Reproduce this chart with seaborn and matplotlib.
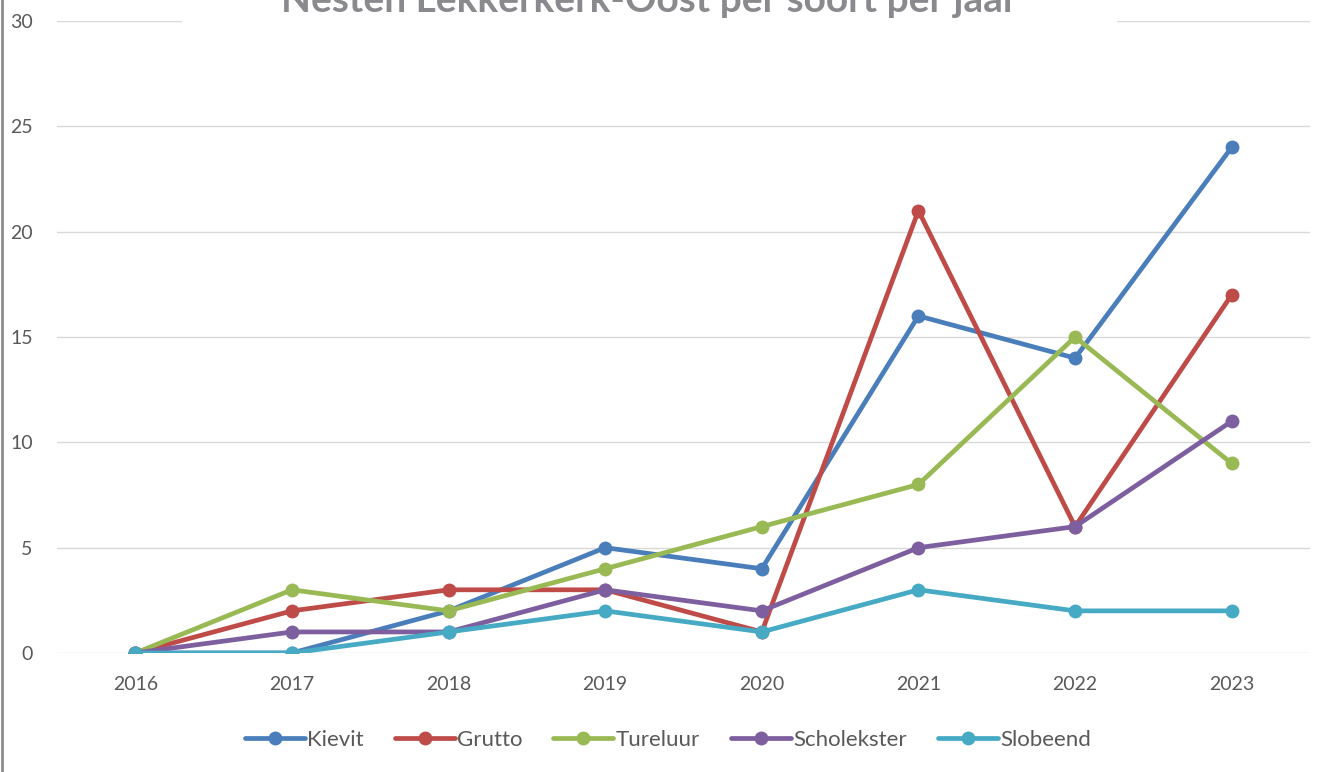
import matplotlib
matplotlib.use('Agg')
import matplotlib.pyplot as plt
import seaborn as sns
import pandas as pd
from matplotlib.patches import Rectangle
from matplotlib.lines import Line2D

jaren = [2016, 2017, 2018, 2019, 2020, 2021, 2022, 2023]
kievit = [0, 0, 2, 5, 4, 16, 14, 24]
grutto = [0, 2, 3, 3, 1, 21, 6, 17]
tureluur = [0, 3, 2, 4, 6, 8, 15, 9]
scholekster = [0, 1, 1, 3, 2, 5, 6, 11]
slobeend = [0, 0, 1, 2, 1, 3, 2, 2]

soorten = ['Kievit', 'Grutto', 'Tureluur', 'Scholekster', 'Slobeend']
kleuren = ['#4a7ebb', '#be4b48', '#98b954', '#7d5fa0', '#46aac5']

rows = []
for naam, waarden in zip(soorten, [kievit, grutto, tureluur, scholekster, slobeend]):
    for j, w in zip(jaren, waarden):
        rows.append({'jaar': j, 'nesten': w, 'soort': naam})
df = pd.DataFrame(rows)

sns.set_style('white')
plt.rcParams['font.family'] = ['Lato', 'DejaVu Sans']

fig = plt.figure(figsize=(13.2, 7.72), dpi=100)
ax = fig.add_axes([57 / 1320, 119 / 772, 1253 / 1320, 632 / 772])

sns.lineplot(data=df, x='jaar', y='nesten', hue='soort', palette=kleuren,
             marker='o', markersize=10, markeredgewidth=0, linewidth=3.4,
             ax=ax, zorder=3)

ax.set_xlim(2015.5, 2023.5)
ax.set_ylim(0, 30)
ax.set_xticks(jaren)
ax.set_yticks(range(0, 31, 5))
ax.grid(axis='y', color='#d9d9d9', linewidth=1)
ax.set_axisbelow(True)
for s in ax.spines.values():
    s.set_visible(False)
ax.tick_params(axis='x', length=0, pad=16.5, labelsize=14, labelcolor='#595959')
ax.tick_params(axis='y', length=0, pad=17.5, labelsize=14, labelcolor='#595959')
ax.set_xlabel('')
ax.set_ylabel('')

handles, labels = ax.get_legend_handles_labels()
ax.legend_.remove()
fig.legend(handles, labels, loc='center', bbox_to_anchor=(0.506, 32 / 772),
           ncol=5, frameon=False, fontsize=16, handlelength=2.7,
           handletextpad=0.1, columnspacing=1.4, labelcolor='#595959')

# witte band achter de titel, over de bovenste rasterlijn
fig.add_artist(Rectangle((182 / 1320, 1 - 32 / 772), (1117 - 182) / 1320, 32 / 772,
                         transform=fig.transFigure, facecolor='white',
                         edgecolor='none', zorder=5))
fig.text(0.492, 1 - 12 / 772, 'Nesten Lekkerkerk-Oost per soort per jaar',
         ha='center', va='baseline', fontsize=28, fontweight='bold',
         color='#8a8a8e', zorder=6)

fig.add_artist(Line2D([1.5 / 1320, 1.5 / 1320], [0, 1], transform=fig.transFigure,
                      color='#8c8c8c', linewidth=2))

fig.savefig('out.png', dpi=100)
